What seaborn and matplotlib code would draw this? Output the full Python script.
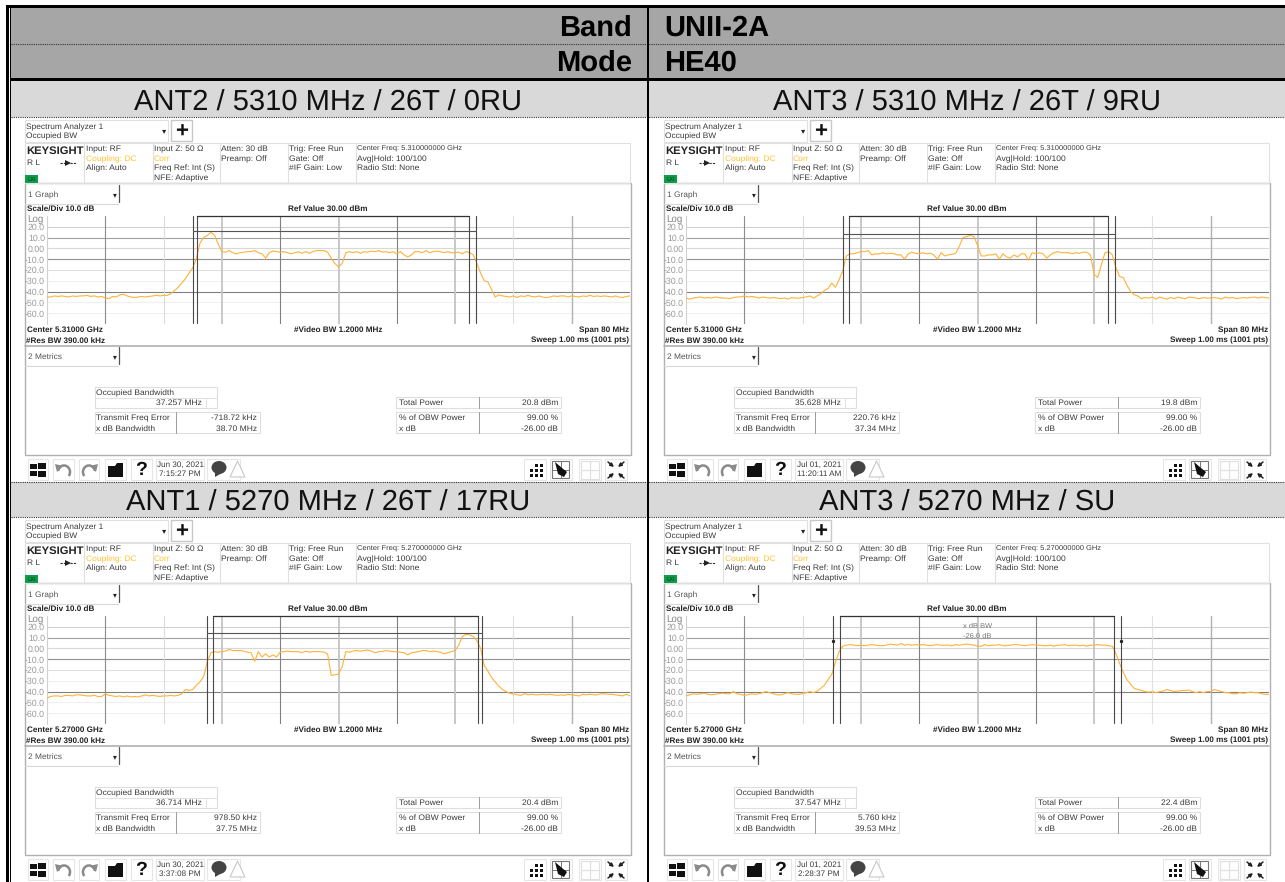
import numpy as np
import matplotlib
matplotlib.use('Agg')
import matplotlib.pyplot as plt
from matplotlib.patches import Rectangle, Polygon, Ellipse, Arc
import pandas as pd
import seaborn as sns

# sweep points of the analyzer, MHz from center
sweep_mhz = [
    -40.0, -39.5, -39.0, -38.5, -38.0, -37.5, -37.0, -36.5, -36.0, -35.5, -35.0, -34.5, -34.0, -33.5, -33.0, -32.5,
    -32.0, -31.5, -31.0, -30.5, -30.0, -29.5, -29.0, -28.5, -28.0, -27.5, -27.0, -26.5, -26.0, -25.5, -25.0, -24.5,
    -24.0, -23.5, -23.0, -22.5, -22.0, -21.5, -21.0, -20.5, -20.0, -19.5, -19.0, -18.5, -18.0, -17.5, -17.0, -16.5,
    -16.0, -15.5, -15.0, -14.5, -14.0, -13.5, -13.0, -12.5, -12.0, -11.5, -11.0, -10.5, -10.0, -9.5, -9.0, -8.5,
    -8.0, -7.5, -7.0, -6.5, -6.0, -5.5, -5.0, -4.5, -4.0, -3.5, -3.0, -2.5, -2.0, -1.5, -1.0, -0.5,
    0.0, 0.5, 1.0, 1.5, 2.0, 2.5, 3.0, 3.5, 4.0, 4.5, 5.0, 5.5, 6.0, 6.5, 7.0, 7.5,
    8.0, 8.5, 9.0, 9.5, 10.0, 10.5, 11.0, 11.5, 12.0, 12.5, 13.0, 13.5, 14.0, 14.5, 15.0, 15.5,
    16.0, 16.5, 17.0, 17.5, 18.0, 18.5, 19.0, 19.5, 20.0, 20.5, 21.0, 21.5, 22.0, 22.5, 23.0, 23.5,
    24.0, 24.5, 25.0, 25.5, 26.0, 26.5, 27.0, 27.5, 28.0, 28.5, 29.0, 29.5, 30.0, 30.5, 31.0, 31.5,
    32.0, 32.5, 33.0, 33.5, 34.0, 34.5, 35.0, 35.5, 36.0, 36.5, 37.0, 37.5, 38.0, 38.5, 39.0, 39.5, 40.0,
]

trace_ant2_5310 = [
    -45, -45, -44, -44.5, -44, -44.5, -45, -44, -44.5, -44, -44, -43.5, -44.5, -44, -45, -44.5,
    -46, -46.5, -44.5, -45, -43, -42.5, -44, -45, -45.5, -45, -44.5, -45, -44.5, -44, -43.5, -44,
    -43.5, -43.5, -42, -39, -36, -32, -28, -23, -18, -9, 5, 10, 12, 15, 12, 4,
    -3, -3.5, -2, -4, -5, -4, -3.5, -3, -3, -2, -4, -5, -9, -4, -2.5, -3,
    -3.5, -3, -4, -5, -4, -3, -4.5, -3, -4.5, -3, -2, -2, -2, -3.5, -9, -14,
    -17, -14, -4, -3, -4, -3, -4.5, -3, -3.5, -2.5, -3, -2, -3.5, -3, -4, -3,
    -5, -3, -6, -8, -6, -3, -3, -4, -2, -4, -3, -2.5, -3, -4, -3, -4,
    -4, -3.5, -5, -3, -4, -6, -14, -23, -30, -31, -38, -45, -43, -44, -44.5, -45,
    -44, -45.5, -44, -44.5, -43.5, -44.5, -45, -44, -45, -45.5, -45, -44, -44.5, -44, -44, -45,
    -44, -44.5, -45, -44, -44.5, -43.5, -44.5, -44, -44.5, -44, -44.5, -45, -44, -45, -45.5, -44.5, -44,
]
trace_ant3_5310 = [
    -46, -47, -46, -45.5, -45, -46, -45.5, -46, -45, -45.5, -46, -46, -46.5, -45.5, -45, -45,
    -44, -45, -44.5, -45, -46, -45, -45.5, -46, -45.5, -46, -46.5, -46, -47, -45.5, -46, -46,
    -45.5, -45, -44, -46, -44, -42, -39, -37, -32, -36, -29, -21, -7, -5, -5, -4,
    -3, -3, -2, -6, -5, -5, -4, -5, -4.5, -5, -6, -6, -10, -5, -3.5, -4.5,
    -5, -4, -5, -4.5, -6, -10, -4, -7, -6, -5.5, -4.5, 2, 10, 11, 12, 11,
    3, -7, -7, -6, -6, -5, -10, -5, -8, -9, -6, -8, -5, -5, -11, -4,
    -5, -4, -5, -9, -6, -4, -3, -4, -4, -4, -5, -4, -4.5, -3.5, -3.5, -6,
    -24, -27, -15, -4, -3, -6, -18, -26, -27, -34, -40, -43, -44, -46.5, -45.5, -46,
    -45, -47, -45, -46, -47, -45.5, -46.5, -45, -46, -46.5, -45, -45.5, -46, -46.5, -45.5, -46,
    -46, -45.5, -46, -47, -45, -46, -45.5, -46.5, -46, -45.5, -46, -45.5, -45, -46, -45, -45.5, -46,
]
trace_ant1_5270 = [
    -46, -44.5, -44, -44, -44.5, -43.5, -43.5, -44, -43, -43, -43.5, -44, -44, -43.5, -44.5, -44.5,
    -42, -43.5, -44, -44.5, -44, -45, -44, -45, -44.5, -45, -44, -43, -44, -43.5, -44, -44.5,
    -44, -44, -43.5, -44, -43.5, -42, -38, -39, -38, -34, -31, -26, -12, -4, -3, -3.5,
    -3, -2.5, -1, -2, -2, -2, -2.5, -3.5, -4, -12, -3, -8, -5, -8, -6, -8,
    -3.5, -3, -2.5, -3, -3, -3, -4, -2.5, -3.5, -3, -3, -3, -3.5, -5, -25, -24.5,
    -24, -17, -3, -3.5, -2.5, -2, -2.5, -2, -1.5, -2.5, -4, -3, -3, -2, -2.5, -3,
    -3, -3.5, -4, -6, -4, -3.5, -3, -2, -2, -3, -2.5, -3, -3.5, -5, -4, -3,
    -2, 3, 11, 13, 12.5, 11, 7, 0, -16, -21, -27, -31, -35, -38, -40, -41.5,
    -42, -43, -43.5, -42, -43, -42.5, -43, -43, -42.5, -43, -42.5, -43, -43.5, -43, -43.5, -42.5,
    -43, -43.5, -44, -42.5, -43, -42.5, -43, -43, -42, -42, -42.5, -42.5, -43, -43.5, -44, -42.5, -44,
]
trace_ant3_5270 = [
    -44, -43, -42, -42.5, -42, -41.5, -42.5, -43, -42.5, -42, -41.5, -42, -42, -40, -42, -42.5,
    -43.5, -43, -42, -42.5, -42, -41, -40, -41, -42, -43, -43, -42, -41, -42, -42.5, -42.5,
    -42, -41, -40, -41, -39.5, -37, -34, -29, -24, -13, -3, 2, 3, 3.5, 3, 2.5,
    3, 2.5, 3, 3.5, 3, 2.5, 2.5, 3, 4, 3.5, 3, 4.5, 3, 3.5, 3, 3.5,
    3, 3.5, 3, 2.5, 3, 3.5, 3, 3, 3, 2.5, 3.5, 3, 3.5, 4, 3.5, 3,
    2, 2, 3.5, 2.5, 3, 3, 3.5, 2.5, 2.5, 3, 3.5, 3.5, 3, 2.5, 3, 3.5,
    3, 3, 2.5, 2.5, 3, 2, 3, 3, 3.5, 2.5, 3, 3, 2.5, 3, 2, 3,
    3, 3.5, 3, 3, 2.5, 2, -5, -14, -22, -29, -33, -37, -38, -39, -40, -40.5,
    -40, -41, -40, -39.5, -38, -39, -40, -39.5, -39, -39, -38.5, -40, -41, -40, -41, -40,
    -40, -38, -39, -40, -41, -41, -42, -42, -41, -41.5, -41, -40.5, -41, -41, -42, -42.5, -42.5,
]

panel_titles = ['ANT2 / 5310 MHz / 26T / 0RU', 'ANT3 / 5310 MHz / 26T / 9RU',
                'ANT1 / 5270 MHz / 26T / 17RU', 'ANT3 / 5270 MHz / SU']
traces = [trace_ant2_5310, trace_ant3_5310, trace_ant1_5270, trace_ant3_5270]
center_ghz = ['5.31000', '5.31000', '5.27000', '5.27000']
center_long = ['5.310000000', '5.310000000', '5.270000000', '5.270000000']
occupied_bw = ['37.257 MHz', '35.628 MHz', '36.714 MHz', '37.547 MHz']
freq_error = ['-718.72 kHz', '220.76 kHz', '978.50 kHz', '5.760 kHz']
xdb_bw = ['38.70 MHz', '37.34 MHz', '37.75 MHz', '39.53 MHz']
total_power = ['20.8 dBm', '19.8 dBm', '20.4 dBm', '22.4 dBm']
dates = ['Jun 30, 2021', 'Jul 01, 2021', 'Jun 30, 2021', 'Jul 01, 2021']
times = ['7:15:27 PM', '11:20:11 AM', '3:37:08 PM', '2:28:37 PM']

# marker edges in MHz, x dB level in dBm (None = dots only)
obw_edges = [(-19.35, 17.91), (-17.6, 17.9), (-17.25, 19.18), (-18.8, 18.7)]
xdb_edges = [(-19.9, 18.85), (-18.45, 18.8), (-18.0, 19.7), (-19.85, 19.7)]
xdb_level = [16, 13, 14, None]

y_ticks = [20, 10, 0, -10, -20, -30, -40, -50, -60]
y_labels = ['20.0', '10.0', '0.00', '-10.0', '-20.0', '-30.0', '-40.0', '-50.0', '-60.0']
h_grid_colors = ['#d0d0d0', '#a0a0a0', '#d8d8d8', '#909090', '#e0e0e0', '#f0f0f0', '#808080', '#f0f0f0', '#f0f0f0']
v_grid_mhz = [-32, -24, -16, -8, 0, 8, 16, 24, 32]
v_grid_colors = ['#8c8c8c', '#dcdcdc', '#c4c4c4', '#808080', '#c4c4c4', '#808080', '#c4c4c4', '#e0e0e0', '#b0b0b0']
v_grid_widths = [0.8, 0.8, 1.3, 0.8, 1.3, 0.8, 1.3, 0.8, 1.0]

panel_offsets = [(0, 0), (639, 0), (0, 400), (639, 400)]
TRACE_COLOR = '#ffb238'
ORANGE = '#ffc233'
TXT = '#3a3a3a'

sns.set_theme(style='white')
plt.rcParams['font.family'] = ['Liberation Sans', 'DejaVu Sans']
plt.rcParams['text.hinting'] = 'no_hinting'

fig = plt.figure(figsize=(12.85, 8.82), dpi=100, facecolor='white')
ov = fig.add_axes([0, 0, 1, 1], zorder=0)
ov.set_xlim(0, 1285)
ov.set_ylim(882, 0)
ov.axis('off')


def box(x, y, w, h, fc='none', ec='#dedede', lw=0.8, z=2):
    ov.add_patch(Rectangle((x, y), w, h, fc=fc, ec=ec, lw=lw, zorder=z))


def txt(x, y, s, size=6.1, color=TXT, weight='normal', ha='left'):
    ov.text(x, y + 0.13 * size, s, fontsize=size, color=color, fontweight=weight, ha=ha, va='center', zorder=5)


def dropdown(x, y, w, h, label, dy_label):
    ov.plot([x, x + w - 1.5], [y + h, y + h], color='#d8d8d8', lw=0.8, zorder=2)
    ov.plot([x + w, x + w], [y, y + h - 2], color='#555555', lw=0.9, zorder=2)
    txt(x + 3, y + dy_label, label, size=6, color='#555555')
    txt(x + w - 4, y + dy_label, '▾', size=5.5, color='#222222', ha='center')


def toolbar(dx, dy, date, time):
    y0 = 458 + dy
    for x, w in [(28, 20), (53, 21), (79, 20), (105, 21), (131, 21), (156, 48), (207, 33), (524, 22), (550, 22), (579, 22), (605, 22)]:
        box(x + dx, y0 + 1, w, 21, ec='#e6e6e6')
    # windows logo
    for x, y, w, h in [(30, 464, 6.5, 5), (37.5, 462.5, 8, 6.5), (30, 470.5, 6.5, 5), (37.5, 470.5, 8, 6.5)]:
        ov.add_patch(Rectangle((x + dx, y + dy), w, h, fc='#111111', ec='none', zorder=4))
    # undo, redo
    ov.add_patch(Arc((64 + dx, 472 + dy), 12, 13, theta1=190, theta2=400, ec='#8a8a8a', lw=1.8, zorder=4))
    ov.add_patch(Polygon([(55 + dx, 464 + dy), (63 + dx, 466 + dy), (57 + dx, 472 + dy)], fc='#8a8a8a', ec='none', zorder=4))
    ov.add_patch(Arc((89 + dx, 472 + dy), 12, 13, theta1=140, theta2=350, ec='#8a8a8a', lw=1.8, zorder=4))
    ov.add_patch(Polygon([(98 + dx, 464 + dy), (90 + dx, 466 + dy), (96 + dx, 472 + dy)], fc='#8a8a8a', ec='none', zorder=4))
    # folder
    ov.add_patch(Polygon([(108 + dx, 466 + dy), (115 + dx, 466 + dy), (117 + dx, 463 + dy), (123 + dx, 463 + dy),
                          (123 + dx, 477 + dy), (108 + dx, 477 + dy)], fc='#111111', ec='none', zorder=4))
    txt(141 + dx, 468 + dy, '?', size=14, color='#111111', weight='bold', ha='center')
    txt(180 + dx, 464.5 + dy, date, size=5.9, ha='center')
    txt(180 + dx, 473 + dy, time, size=5.9, ha='center')
    # message bubble and warning triangle
    ov.add_patch(Ellipse((219 + dx, 467.5 + dy), 15, 13, fc='#444444', ec='none', zorder=4))
    ov.add_patch(Polygon([(215 + dx, 472 + dy), (222 + dx, 473 + dy), (215 + dx, 477 + dy)], fc='#444444', ec='none', zorder=4))
    ov.add_patch(Polygon([(230 + dx, 477 + dy), (245 + dx, 477 + dy), (237.5 + dx, 461 + dy)], fc='white', ec='#c8c8c8', lw=0.8, zorder=4))
    # right icons
    for x, y in [(536, 465), (541, 465), (536, 470), (541, 470), (531, 475), (536, 475), (541, 475), (531, 470)]:
        ov.add_patch(Rectangle((x + dx - 1.5, y + dy - 1.5), 3, 3, fc='#111111', ec='none', zorder=4))
    box(552 + dx, 461 + dy, 17, 17, ec='#777777')
    ov.plot([560.5 + dx, 560.5 + dx], [461 + dy, 478 + dy], color='#777777', lw=0.7, zorder=4)
    ov.plot([552 + dx, 569 + dx], [469.5 + dy, 469.5 + dy], color='#777777', lw=0.7, zorder=4)
    ov.add_patch(Polygon([(555 + dx, 462 + dy), (562 + dx, 468 + dy), (567 + dx, 472 + dy), (564 + dx, 477 + dy),
                          (558 + dx, 474 + dy)], fc='#111111', ec='none', zorder=5))
    for x, y in [(581, 461), (590, 461), (581, 470), (590, 470)]:
        box(x + dx, y + dy, 8.5, 8.5, ec='#e0e0e0')
    for x1, y1, x2, y2 in [(608, 462, 614, 467), (624, 462, 618, 467), (608, 478, 614, 473), (624, 478, 618, 473)]:
        ov.annotate('', xy=(x2 + dx, y2 + dy), xytext=(x1 + dx, y1 + dy), zorder=5,
                    arrowprops=dict(arrowstyle='-|>', color='#222222', lw=1.1, mutation_scale=5, shrinkA=0, shrinkB=0))


def chrome(i):
    dx, dy = panel_offsets[i]
    rule = ov.plot
    # selector
    box(25 + dx, 120 + dy, 143, 22, ec='#e0e0e0')
    txt(26 + dx, 126 + dy, 'Spectrum Analyzer 1', size=6)
    txt(26 + dx, 135.5 + dy, 'Occupied BW', size=6)
    txt(164 + dx, 130 + dy, '▾', size=6, color='#222222', ha='center')
    box(171 + dx, 120 + dy, 21, 21, ec='#c8c8c8', lw=1)
    txt(181.5 + dx, 130 + dy, '+', size=16, color='#111111', weight='bold', ha='center')
    # status row
    box(25 + dx, 143 + dy, 605, 40, ec='#e0e0e0')
    for x in [84, 153, 220, 288, 356]:
        rule([x + dx, x + dx], [143 + dy, 183 + dy], color='#e0e0e0', lw=0.8, zorder=2)
    txt(26.5 + dx, 150 + dy, 'KEYSIGHT', size=8.1, color='#222222', weight='bold')
    txt(27 + dx, 162.5 + dy, 'R L', size=6)
    rule([60 + dx, 76 + dx], [163 + dy, 163 + dy], color='#333333', lw=0.8, ls=(0, (2, 1)), zorder=3)
    ov.add_patch(Polygon([(65 + dx, 160 + dy), (65 + dx, 166 + dy), (71 + dx, 163 + dy)], fc='#222222', ec='none', zorder=4))
    ov.add_patch(Rectangle((25 + dx, 175 + dy), 13, 8, fc='#0f9d4a', ec='none', zorder=3))
    txt(31.5 + dx, 179 + dy, 'LXI', size=4, color='#053', weight='bold', ha='center')
    txt(86 + dx, 148 + dy, 'Input: RF')
    txt(86 + dx, 158 + dy, 'Coupling: DC', color=ORANGE)
    txt(86 + dx, 167.5 + dy, 'Align: Auto')
    txt(154 + dx, 148 + dy, 'Input Z: 50 \u03a9')
    txt(154 + dx, 158 + dy, 'Corr', color=ORANGE)
    txt(154 + dx, 167.5 + dy, 'Freq Ref: Int (S)')
    txt(154 + dx, 177 + dy, 'NFE: Adaptive')
    txt(221 + dx, 148 + dy, 'Atten: 30 dB')
    txt(221 + dx, 158 + dy, 'Preamp: Off')
    txt(289 + dx, 148 + dy, 'Trig: Free Run')
    txt(289 + dx, 158 + dy, 'Gate: Off')
    txt(289 + dx, 167.5 + dy, '#IF Gain: Low')
    txt(357 + dx, 148 + dy, 'Center Freq: ' + center_long[i] + ' GHz', size=5.4)
    txt(357 + dx, 158 + dy, 'Avg|Hold: 100/100')
    txt(357 + dx, 167.5 + dy, 'Radio Std: None')
    # window frame
    ov.add_patch(Rectangle((24.5 + dx, 183 + dy), 606, 272, fc='white', ec='#b0b0b0', lw=1.0, zorder=1))
    dropdown(25 + dx, 184.5 + dy, 94, 19.5, '1 Graph', 9.5)
    txt(27 + dx, 208 + dy, 'Scale/Div 10.0 dB', size=5.9, color='#222222', weight='bold')
    txt(328 + dx, 208 + dy, 'Ref Value 30.00 dBm', size=5.9, color='#222222', weight='bold', ha='center')
    txt(27 + dx, 218 + dy, 'Log', size=7, color='#888888')
    txt(27 + dx, 329.5 + dy, 'Center ' + center_ghz[i] + ' GHz', size=5.9, color='#222222', weight='bold')
    txt(26 + dx, 340 + dy, '#Res BW 390.00 kHz', size=5.9, color='#222222', weight='bold')
    txt(338 + dx, 329.5 + dy, '#Video BW 1.2000 MHz', size=5.9, color='#222222', weight='bold', ha='center')
    txt(629 + dx, 329.5 + dy, 'Span 80 MHz', size=5.9, color='#222222', weight='bold', ha='right')
    txt(629 + dx, 340 + dy, 'Sweep 1.00 ms (1001 pts)', size=5.9, color='#222222', weight='bold', ha='right')
    rule([25 + dx, 630 + dx], [346 + dy, 346 + dy], color='#b0b0b0', lw=1.2, zorder=2)
    dropdown(25 + dx, 347 + dy, 94, 18.5, '2 Metrics', 9)
    # metric tables
    box(95 + dx, 387 + dy, 122, 21)
    rule([95 + dx, 217 + dx], [397.5 + dy, 397.5 + dy], color='#e0e0e0', lw=0.7, zorder=2)
    rule([206 + dx, 206 + dx], [397.5 + dy, 408 + dy], color='#e0e0e0', lw=0.7, zorder=2)
    txt(96.5 + dx, 392 + dy, 'Occupied Bandwidth')
    txt(202 + dx, 402.5 + dy, occupied_bw[i], ha='right')
    box(94.5 + dx, 412 + dy, 165, 21)
    rule([176 + dx, 176 + dx], [412 + dy, 433 + dy], color='#999999', lw=0.7, zorder=2)
    txt(96.5 + dx, 417.5 + dy, 'Transmit Freq Error')
    txt(96.5 + dx, 428 + dy, 'x dB Bandwidth')
    txt(257 + dx, 417.5 + dy, freq_error[i], ha='right')
    txt(257 + dx, 428 + dy, xdb_bw[i], ha='right')
    box(395.5 + dx, 397 + dy, 165, 11)
    box(395.5 + dx, 412 + dy, 165, 21)
    rule([478.5 + dx, 478.5 + dx], [397 + dy, 408 + dy], color='#999999', lw=0.7, zorder=2)
    rule([478.5 + dx, 478.5 + dx], [412 + dy, 433 + dy], color='#999999', lw=0.7, zorder=2)
    txt(399 + dx, 402 + dy, 'Total Power')
    txt(399 + dx, 417.5 + dy, '% of OBW Power')
    txt(399 + dx, 428 + dy, 'x dB')
    txt(558 + dx, 402 + dy, total_power[i], ha='right')
    txt(558 + dx, 417.5 + dy, '99.00 %', ha='right')
    txt(558 + dx, 428 + dy, '-26.00 dB', ha='right')
    toolbar(dx, dy, dates[i], times[i])


def spectrum(i):
    dx, dy = panel_offsets[i]
    ax = fig.add_axes([(47 + dx) / 1285, 1 - (324 + dy) / 882, 583 / 1285, 108 / 882], zorder=3)
    df = pd.DataFrame({'mhz': sweep_mhz, 'dbm': traces[i]})
    for lvl, c in zip(y_ticks, h_grid_colors):
        ax.axhline(lvl, color=c, lw=0.8, zorder=1)
    for f, c, w in zip(v_grid_mhz, v_grid_colors, v_grid_widths):
        ax.axvline(f, color=c, lw=w, zorder=1)
    sns.lineplot(data=df, x='mhz', y='dbm', color=TRACE_COLOR, lw=0.8, errorbar=None, ax=ax, zorder=3)
    ax.set_xlim(-40, 40)
    ax.set_ylim(-70, 30)
    ax.set_xlabel('')
    ax.set_ylabel('')
    ax.set_xticks([])
    ax.set_yticks(y_ticks)
    ax.set_yticklabels(y_labels)
    ax.tick_params(axis='y', length=0, pad=1.5, labelsize=6.3, labelcolor='#999999')
    for s in ax.spines.values():
        s.set_visible(False)
    ax.spines['left'].set_visible(True)
    ax.spines['left'].set_color('#d0d0d0')
    ax.spines['left'].set_linewidth(0.8)

    lo, hi = xdb_edges[i]
    olo, ohi = obw_edges[i]
    for f in (lo, olo, ohi, hi):
        ax.plot([f, f], [-69, 30], color='#484848', lw=0.8, zorder=4, clip_on=False)
    ax.plot([olo, ohi], [29.8, 29.8], color='#333333', lw=0.9, zorder=4, clip_on=False)
    if xdb_level[i] is not None:
        ax.plot([lo, hi], [xdb_level[i], xdb_level[i]], color='#555555', lw=0.8, zorder=4)
    else:
        ax.scatter([lo, hi], [7, 7], s=2, color='#222222', zorder=5)
        ax.text(0, 21, 'x dB BW', fontsize=5.4, color='#777777', ha='center', va='center', zorder=5)
        ax.text(0, 11, '-26.0 dB', fontsize=5.4, color='#777777', ha='center', va='center', zorder=5)


# table header
ov.add_patch(Rectangle((11, 8), 1274, 70, fc='#a6a6a6', ec='none', zorder=0))
ov.add_patch(Rectangle((11, 81), 1274, 35.5, fc='#d9d9d9', ec='none', zorder=0))
ov.add_patch(Rectangle((11, 482), 1274, 34.5, fc='#d9d9d9', ec='none', zorder=0))
ov.plot([11, 1285], [43.5, 43.5], color='#333333', lw=0.8, ls=(0, (1, 1)), zorder=1)
txt(632, 25, 'Band', size=21, color='#000000', weight='bold', ha='right')
txt(632, 60, 'Mode', size=21, color='#000000', weight='bold', ha='right')
txt(664, 25, 'UNII-2A', size=21, color='#000000', weight='bold')
txt(664, 60, 'HE40', size=21, color='#000000', weight='bold')

for k in range(4):
    chrome(k)
    spectrum(k)
    ox, oy = panel_offsets[k]
    txt(328 + ox - (0 if ox else 0), 99 + oy, panel_titles[k], size=21, color='#111111', ha='center')

# table rules
for yy in [117, 517, 481.5]:
    ov.plot([11, 1285], [yy, yy], color='#333333', lw=0.8, ls=(0, (1, 1)), zorder=6)
ov.add_patch(Rectangle((10, 78), 1275, 3, fc='black', ec='none', zorder=6))
ov.add_patch(Rectangle((6, 5), 1279, 3, fc='black', ec='none', zorder=6))
ov.add_patch(Rectangle((6, 5), 2.5, 877, fc='black', ec='none', zorder=6))
ov.add_patch(Rectangle((10, 5), 1.2, 877, fc='black', ec='none', zorder=6))
ov.add_patch(Rectangle((646.8, 8), 2, 874, fc='black', ec='none', zorder=6))

fig.savefig('out.png', dpi=100)
plt.close(fig)
